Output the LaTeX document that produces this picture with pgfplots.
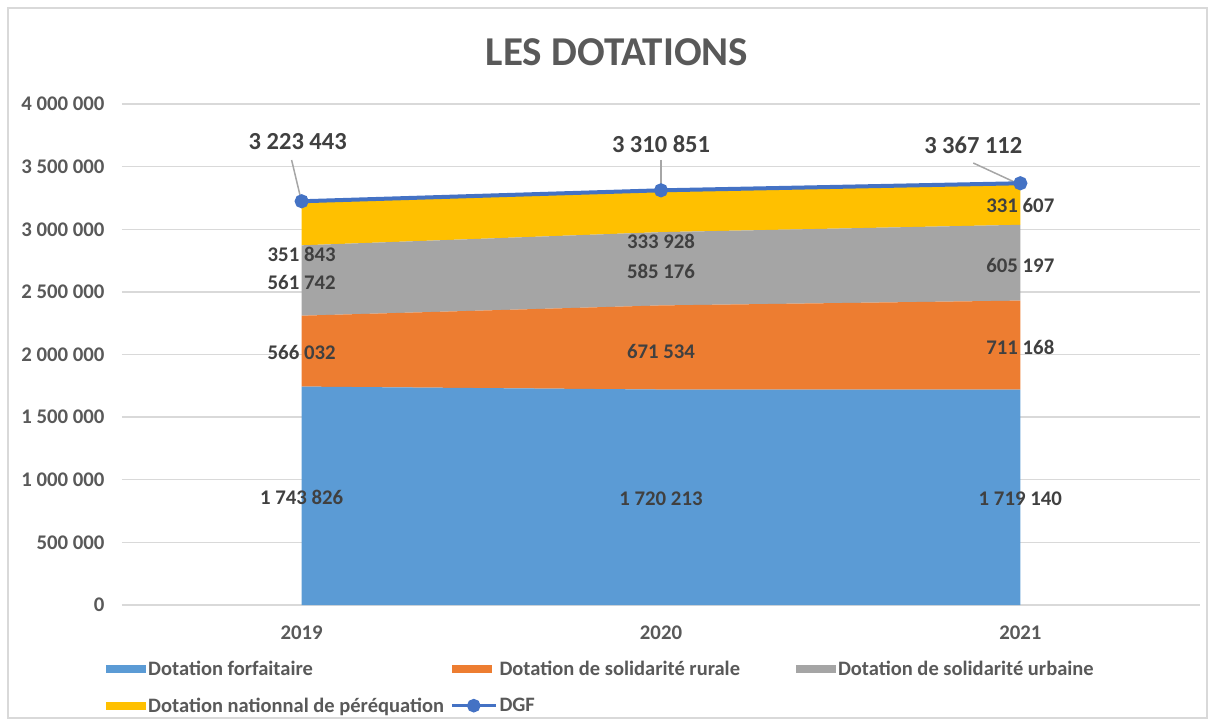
\documentclass[border=0pt]{standalone}
\usepackage{pgfplots}
\pgfplotsset{compat=1.18}
\usepackage{fontspec}
\setmainfont{Carlito}
\definecolor{cblue}{HTML}{5B9BD5}
\definecolor{corange}{HTML}{ED7D31}
\definecolor{cgray}{HTML}{A5A5A5}
\definecolor{cyellow}{HTML}{FFC000}
\definecolor{dgfc}{HTML}{4472C4}
\definecolor{gridc}{HTML}{D9D9D9}
\definecolor{txtc}{HTML}{595959}
\definecolor{labc}{HTML}{404040}
\definecolor{leadc}{HTML}{A6A6A6}
\pgfplotsset{
  swatch legend/.style={legend image code/.code={\fill[##1] (0pt,-4pt) rectangle (40pt,4pt);}},
  dgf legend/.style={legend image code/.code={\draw[mark repeat=2,mark phase=2,##1] plot coordinates {(0pt,0pt) (22pt,0pt) (44pt,0pt)};}},
}
\begin{document}
\begin{tikzpicture}[x=1pt,y=1pt]
\path[use as bounding box] (0,0) rectangle (1215,726);
\draw[gridc, line width=1.2pt] (8,8) rectangle (1207,718);
\node[font=\bfseries\fontsize{41}{49}\selectfont, text=txtc] at (617,674) {LES DOTATIONS};
\begin{axis}[
  at={(122pt,121pt)}, anchor=south west,
  scale only axis, width=1078pt, height=501pt,
  xmin=-0.5, xmax=2.5, ymin=0, ymax=4000000,
  stack plots=y,
  axis line style={draw=none},
  major tick length=0pt,
  xtick={0,1,2}, xticklabels={2019,2020,2021},
  ytick={0,500000,...,4000000},
  scaled y ticks=false,
  ymajorgrids, grid style={gridc, line width=1.3pt},
  /pgf/number format/.cd, fixed, precision=0, 1000 sep={\ }, assume math mode=true,
  /pgfplots/.cd,
  yticklabel style={font=\bfseries\fontsize{20.8}{24}\selectfont, text=txtc, anchor=east, xshift=-14pt},
  xticklabel style={font=\bfseries\fontsize{20.8}{24}\selectfont, text=txtc, anchor=north, yshift=-17pt},
  legend style={at={(-0.0176,-0.103)}, anchor=north west, draw=none, fill=none,
    font=\bfseries\fontsize{20.5}{24}\selectfont, text=txtc,
    legend columns=3, row sep=17pt,
    nodes={inner sep=2pt},
    /tikz/column 2/.style={column sep=4pt},
    /tikz/column 4/.style={column sep=54pt}},
  legend cell align=left,
]
\addplot[fill=cblue, draw=none, swatch legend] coordinates {(0,1743826) (1,1720213) (2,1719140)} \closedcycle;
\addlegendentry{Dotation forfaitaire}
\addplot[fill=corange, draw=none, swatch legend] coordinates {(0,566032) (1,671534) (2,711168)} \closedcycle;
\addlegendentry{Dotation de solidarité rurale}
\addplot[fill=cgray, draw=none, swatch legend] coordinates {(0,561742) (1,585176) (2,605197)} \closedcycle;
\addlegendentry{Dotation de solidarité urbaine}
\addplot[fill=cyellow, draw=none, swatch legend] coordinates {(0,351843) (1,333928) (2,331607)} \closedcycle;
\addlegendentry{Dotation nationnal de péréquation}
\addlegendimage{dgfc, line width=3.5pt, mark=*, mark size=5pt, dgf legend}
\addlegendentry{DGF}
\end{axis}
\begin{axis}[
  at={(122pt,121pt)}, anchor=south west,
  scale only axis, width=1078pt, height=501pt,
  xmin=-0.5, xmax=2.5, ymin=0, ymax=4000000,
  hide axis, clip=false,
]
\draw[leadc, line width=1.5pt] (axis cs:-0.028,3552900) -- (axis cs:-0.002,3240000);
\draw[leadc, line width=1.5pt] (axis cs:1,3552900) -- (axis cs:1,3330000);
\draw[leadc, line width=1.5pt] (axis cs:1.869,3529000) -- (axis cs:1.985,3375000);
\addplot[dgfc, line width=4pt, mark=*, mark size=5pt] coordinates {(0,3223443) (1,3310851) (2,3367112)};
\addplot[draw=none, mark=none, point meta=explicit symbolic, nodes near coords, nodes near coords align=center,
  every node near coord/.style={font=\bfseries\fontsize{20.8}{24}\selectfont, text=labc, anchor=center}]
  coordinates {
  (0,862270) [1 743 826] (0,2019950) [566 032] (0,2578830) [561 742] (0,2802380) [351 843]
  (1,846300) [1 720 213] (1,2027940) [671 534] (1,2666660) [585 176] (1,2906180) [333 928]
  (2,846300) [1 719 140] (2,2059870) [711 168] (2,2714570) [605 197] (2,3193610) [331 607]
  };
\addplot[draw=none, mark=none, point meta=explicit symbolic, nodes near coords, nodes near coords align=center,
  every node near coord/.style={font=\bfseries\fontsize{24.5}{29}\selectfont, text=labc, anchor=center}]
  coordinates {(-0.011,3696600) [3 223 443] (1,3680600) [3 310 851] (1.869,3672700) [3 367 112]};
\end{axis}
\end{tikzpicture}
\end{document}
